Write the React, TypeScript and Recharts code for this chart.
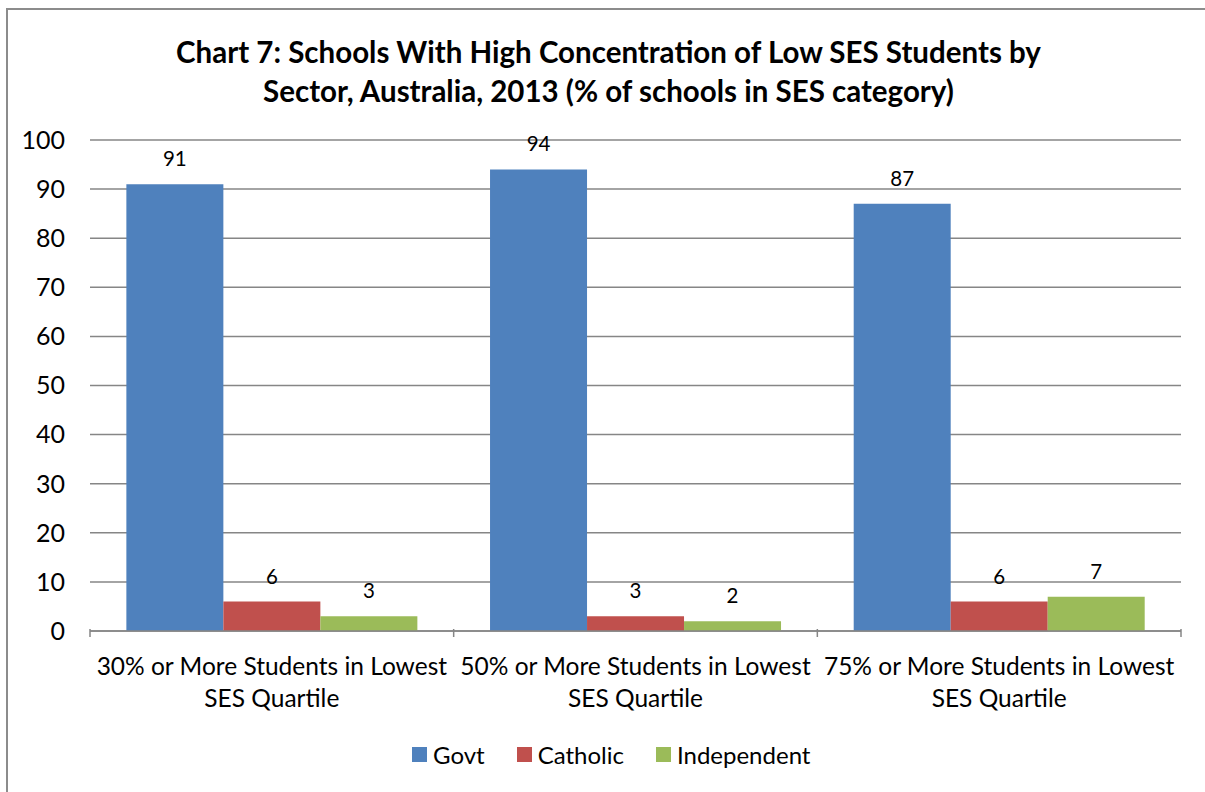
import React from 'react';
import { BarChart, Bar, XAxis, YAxis, CartesianGrid, LabelList } from 'recharts';

const categories = [
  '30% or More Students in Lowest SES Quartile',
  '50% or More Students in Lowest SES Quartile',
  '75% or More Students in Lowest SES Quartile',
];
const categoryLines = [
  ['30% or More Students in Lowest', 'SES Quartile'],
  ['50% or More Students in Lowest', 'SES Quartile'],
  ['75% or More Students in Lowest', 'SES Quartile'],
];
const govt = [91, 94, 87];
const catholic = [6, 3, 6];
const independent = [3, 2, 7];
const yTicks = [0, 10, 20, 30, 40, 50, 60, 70, 80, 90, 100];
const titleLines = [
  'Chart 7: Schools With High Concentration of Low SES Students by',
  'Sector, Australia, 2013 (% of schools in SES category)',
];

const series = [
  { key: 'govt', name: 'Govt', color: '#4F81BD' },
  { key: 'catholic', name: 'Catholic', color: '#C0504D' },
  { key: 'independent', name: 'Independent', color: '#9BBB59' },
];

const data = categories.map((c, i) => ({
  category: c,
  govt: govt[i],
  catholic: catholic[i],
  independent: independent[i],
}));

const FONT = 'Lato, "Open Sans", sans-serif';
const GRID = '#868686';

// Category label in two lines, plus tick marks at the category boundaries
const CategoryTick = (props: any) => {
  const { x, y, payload, index, width } = props;
  const n = categories.length;
  const band = width / n;
  const lines = categoryLines[index] || [String(payload.value)];
  const left = x - band / 2;
  const top = y - 10;
  return (
    <g>
      <line x1={left} y1={top} x2={left} y2={top + 8} stroke={GRID} strokeWidth={1.5} />
      {index === n - 1 && (
        <line x1={left + band} y1={top} x2={left + band} y2={top + 8} stroke={GRID} strokeWidth={1.5} />
      )}
      <text x={x} y={y} textAnchor="middle" fontFamily={FONT} fontSize={24.5} fill="#000">
        {lines.map((l, i) => (
          <tspan key={i} x={x} dy={i === 0 ? 36 : 32}>
            {l}
          </tspan>
        ))}
      </text>
    </g>
  );
};

export default function App() {
  return (
    <div
      style={{
        position: 'absolute',
        left: 0,
        top: 0,
        width: 1205,
        height: 792,
        overflow: 'hidden',
        background: '#fff',
        fontFamily: FONT,
      }}
    >
      <div
        style={{
          position: 'absolute',
          left: 6,
          top: 8,
          width: 1300,
          height: 900,
          border: '2px solid #8c8c8c',
          boxSizing: 'border-box',
        }}
      />
      <div
        style={{
          position: 'absolute',
          left: 0,
          top: 32,
          width: 1217,
          textAlign: 'center',
          fontWeight: 700,
          fontSize: 29.5,
          lineHeight: '39px',
          color: '#000',
        }}
      >
        {titleLines.map((t, i) => (
          <div key={i}>{t}</div>
        ))}
      </div>
      <div style={{ position: 'absolute', left: 0, top: 0 }}>
        <BarChart
          width={1205}
          height={792}
          data={data}
          margin={{ top: 140, right: 24, bottom: 101, left: 0 }}
          barCategoryGap="10%"
          barGap={0}
        >
          <CartesianGrid vertical={false} stroke={GRID} strokeWidth={1.5} />
          <XAxis
            dataKey="category"
            height={60}
            tickLine={false}
            axisLine={{ stroke: GRID, strokeWidth: 1.5 }}
            tick={<CategoryTick />}
            interval={0}
          />
          <YAxis
            width={90}
            domain={[0, 100]}
            ticks={yTicks}
            axisLine={false}
            tickLine={false}
            tickSize={8}
            tickMargin={17}
            tick={{ fontFamily: FONT, fontSize: 25, fill: '#000' }}
          />
          {series.map((s) => (
            <Bar
              key={s.key}
              dataKey={s.key}
              name={s.name}
              fill={s.color}
              isAnimationActive={false}
            >
              <LabelList
                dataKey={s.key}
                position="top"
                offset={18}
                style={{ fontFamily: FONT, fontSize: 20.5, fill: '#000' }}
              />
            </Bar>
          ))}
        </BarChart>
      </div>
      <div
        style={{
          position: 'absolute',
          top: 740,
          left: 412,
          display: 'flex',
          alignItems: 'center',
          fontSize: 24,
          color: '#000',
          whiteSpace: 'nowrap',
        }}
      >
        {series.map((s) => (
          <div key={s.key} style={{ display: 'flex', alignItems: 'center', marginRight: 32 }}>
            <span
              style={{ display: 'inline-block', width: 15, height: 15, background: s.color, marginRight: 6 }}
            />
            <span>{s.name}</span>
          </div>
        ))}
      </div>
    </div>
  );
}
